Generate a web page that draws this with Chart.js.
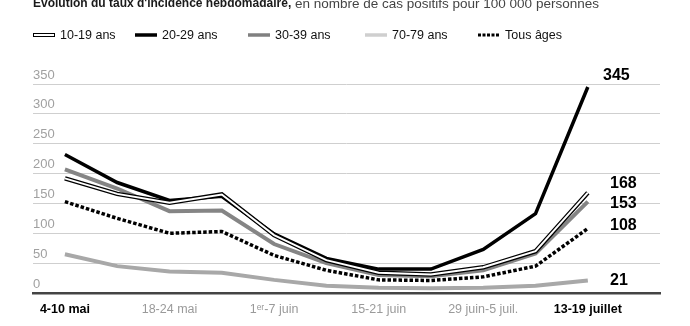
<!DOCTYPE html>
<html>
<head>
<meta charset="utf-8">
<script src="https://cdn.jsdelivr.net/npm/chart.js@4.4.0/dist/chart.umd.min.js"></script>
<style>
  html, body { margin: 0; padding: 0; background: #fff; }
</style>
</head>
<body>
<canvas id="graphique" width="690" height="326"></canvas>
<script>
// semaines (une valeur par semaine, étiquette une semaine sur deux)
var semaines = ["4-10 mai", "11-17 mai", "18-24 mai", "25-31 mai", "1\u1d49\u02b3-7 juin", "8-14 juin",
                "15-21 juin", "22-28 juin", "29 juin-5 juil.", "6-12 juil.", "13-19 juillet"];
var semainesAffichees = [0, 2, 4, 6, 8, 10];

// taux d'incidence pour 100 000 personnes
var ans10_19 = [192, 166, 151, 165, 97, 55, 34, 31, 43, 70, 168];
var ans20_29 = [232, 185, 155, 162, 99, 58, 40, 40, 73, 133, 345];
var ans30_39 = [207, 175, 137, 138, 82, 50, 30, 28, 38, 66, 153];
var ans70_79 = [65, 45, 36, 34, 22, 12, 9, 8, 9, 12, 21];
var tousAges = [153, 125, 100, 103, 63, 38, 22, 21, 27, 45, 108];

var graduationsY = [0, 50, 100, 150, 200, 250, 300, 350];

function points(valeurs) {
    return valeurs.map(function (v, i) { return { x: i, y: v }; });
}

var police = '"Liberation Sans", Arial, sans-serif';
var policeEtroite = '"Liberation Sans Narrow", "Liberation Sans", Arial, sans-serif';

// titre
var titre = {
    id: 'titre',
    afterDraw: function (chart) {
        var ctx = chart.ctx;
        ctx.save();
        ctx.textBaseline = 'middle';
        ctx.textAlign = 'left';
        ctx.font = 'bold 12px ' + police;
        ctx.fillStyle = '#1a1a1a';
        var gras = "Evolution du taux d'incidence hebdomadaire,";
        ctx.fillText(gras, 33, 4);
        var w = ctx.measureText(gras).width;
        ctx.font = '13.5px ' + police;
        ctx.fillStyle = '#444';
        ctx.fillText(" en nombre de cas positifs pour 100 000 personnes", 33 + w, 4);
        ctx.restore();
    }
};

// légende dessinée à la main (le 10-19 a un trait double)
var legende = {
    id: 'legende',
    afterDraw: function (chart) {
        var ctx = chart.ctx;
        var items = [
            { texte: '10-19 ans', x: 33, style: 'double' },
            { texte: '20-29 ans', x: 135, style: 'plein', couleur: '#000' },
            { texte: '30-39 ans', x: 248, style: 'plein', couleur: '#808080' },
            { texte: '70-79 ans', x: 365, style: 'plein', couleur: '#cfcfcf' },
            { texte: 'Tous âges', x: 478, style: 'points' }
        ];
        var y = 35;
        ctx.save();
        items.forEach(function (it) {
            ctx.beginPath();
            ctx.lineCap = 'butt';
            if (it.style == 'double') {
                ctx.strokeStyle = '#000';
                ctx.lineWidth = 4;
                ctx.moveTo(it.x, y); ctx.lineTo(it.x + 22, y); ctx.stroke();
                ctx.beginPath();
                ctx.strokeStyle = '#fff';
                ctx.lineWidth = 2;
                ctx.moveTo(it.x + 1, y); ctx.lineTo(it.x + 21, y); ctx.stroke();
            } else if (it.style == 'points') {
                ctx.strokeStyle = '#000';
                ctx.lineWidth = 3;
                ctx.setLineDash([3, 1.5]);
                ctx.moveTo(it.x, y); ctx.lineTo(it.x + 22, y); ctx.stroke();
                ctx.setLineDash([]);
            } else {
                ctx.strokeStyle = it.couleur;
                ctx.lineWidth = 3.5;
                ctx.moveTo(it.x, y); ctx.lineTo(it.x + 22, y); ctx.stroke();
            }
            ctx.font = '12.5px ' + police;
            ctx.fillStyle = '#111';
            ctx.textBaseline = 'middle';
            ctx.fillText(it.texte, it.x + 27, y + 0.5);
        });
        ctx.restore();
    }
};

// valeurs finales à droite des courbes
var valeursFin = {
    id: 'valeursFin',
    afterDatasetsDraw: function (chart) {
        var ctx = chart.ctx;
        var yScale = chart.scales.y;
        var fins = [
            { serie: ans20_29, x: 603, dy: -11 },
            { serie: ans10_19, x: 610, dy: -9 },
            { serie: ans30_39, x: 610, dy: 2 },
            { serie: tousAges, x: 610, dy: -3 },
            { serie: ans70_79, x: 610, dy: 0 }
        ];
        ctx.save();
        ctx.font = 'bold 16px ' + police;
        ctx.fillStyle = '#000';
        ctx.textBaseline = 'middle';
        ctx.textAlign = 'left';
        fins.forEach(function (f) {
            var v = f.serie[f.serie.length - 1];
            ctx.fillText(String(v), f.x, yScale.getPixelForValue(v) + f.dy);
        });
        ctx.restore();
    }
};

var ctx = document.getElementById("graphique");

var chartGraph = new Chart(ctx, {
    type: 'line',
    data: {
        datasets: [
            {
                label: '10-19 ans',
                data: points(ans10_19),
                borderColor: '#fff',
                borderWidth: 2,
                order: 0
            },
            {
                label: '10-19 ans (contour)',
                data: points(ans10_19),
                borderColor: '#000',
                borderWidth: 4.5,
                order: 1
            },
            {
                label: '20-29 ans',
                data: points(ans20_29),
                borderColor: '#000',
                borderWidth: 3.5,
                order: 2
            },
            {
                label: '30-39 ans',
                data: points(ans30_39),
                borderColor: '#858585',
                borderWidth: 4,
                order: 3
            },
            {
                label: 'Tous âges',
                data: points(tousAges),
                borderColor: '#000',
                borderWidth: 3.5,
                borderDash: [3.5, 2],
                order: 4
            },
            {
                label: '70-79 ans',
                data: points(ans70_79),
                borderColor: '#a8a8a8',
                borderWidth: 4,
                order: 5
            }
        ]
    },
    options: {
        responsive: false,
        animation: false,
        devicePixelRatio: 1,
        layout: {
            padding: { top: 84, left: 33, right: 30, bottom: 0 }
        },
        elements: {
            line: { tension: 0, fill: false, borderCapStyle: 'butt' },
            point: { radius: 0, hoverRadius: 0 }
        },
        plugins: {
            legend: { display: false },
            tooltip: { enabled: false }
        },
        scales: {
            x: {
                type: 'linear',
                min: -0.61,
                max: 11.38,
                afterBuildTicks: function (axis) {
                    axis.ticks = semainesAffichees.map(function (i) { return { value: i }; });
                },
                afterFit: function (axis) {
                    axis.height = 33;
                },
                grid: { display: false, drawTicks: false },
                border: { display: true, color: '#444', width: 2.5 },
                ticks: {
                    autoSkip: false,
                    maxRotation: 0,
                    padding: 9,
                    callback: function (v) { return semaines[v]; },
                    font: function (c) {
                        var fort = c.index === 0 || c.index === semainesAffichees.length - 1;
                        return { family: policeEtroite, size: 12.5, weight: fort ? 'bold' : 'normal' };
                    },
                    color: function (c) {
                        var fort = c.index === 0 || c.index === semainesAffichees.length - 1;
                        return fort ? '#000' : '#9a9a9a';
                    }
                }
            },
            y: {
                min: 0,
                max: 350,
                afterBuildTicks: function (axis) {
                    axis.ticks = graduationsY.map(function (v) { return { value: v }; });
                },
                grid: { color: '#cfcfcf', lineWidth: 1, drawTicks: false },
                border: { display: false },
                ticks: {
                    mirror: true,
                    padding: 0,
                    labelOffset: -9,
                    color: '#a0a0a0',
                    font: { family: police, size: 13 }
                }
            }
        }
    },
    plugins: [titre, legende, valeursFin]
});
</script>
</body>
</html>
